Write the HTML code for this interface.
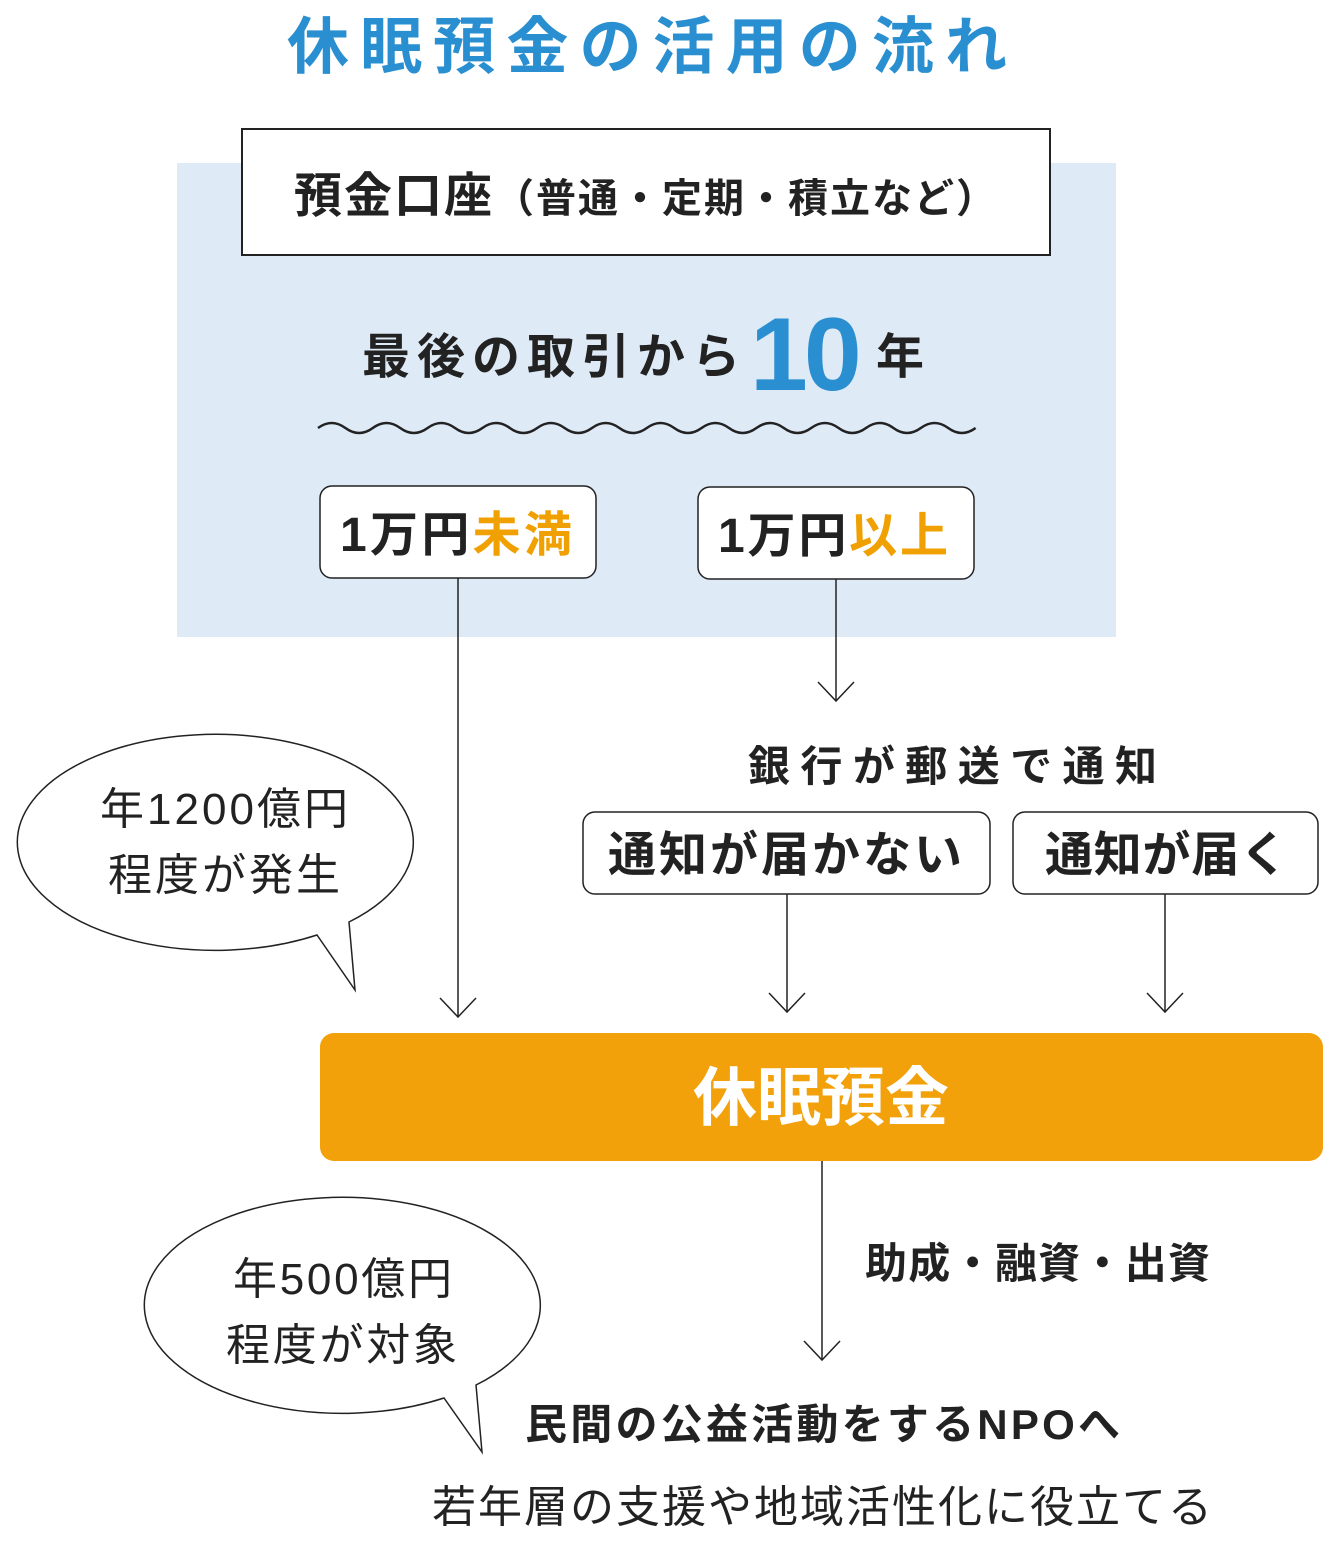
<!DOCTYPE html>
<html><head><meta charset="utf-8">
<style>
html,body{margin:0;padding:0;background:#fff;}
svg{display:block;}
text{font-family:"Liberation Sans","Noto Sans CJK JP",sans-serif;}
</style></head>
<body>
<svg width="1340" height="1552" viewBox="0 0 1340 1552" xmlns="http://www.w3.org/2000/svg">
<text x="287" y="68" font-size="62" font-weight="bold" fill="#2a8fd0" textLength="720" lengthAdjust="spacing">休眠預金の活用の流れ</text>
<rect x="177" y="163" width="939" height="474" fill="#dfeaf7"/>
<rect x="242" y="129" width="808" height="126" fill="#fff" stroke="#222" stroke-width="2"/>
<text x="294" y="212" font-size="48" font-weight="bold" fill="#222" textLength="702" lengthAdjust="spacing">預金口座<tspan font-size="40">（普通・定期・積立など）</tspan></text>
<text x="362" y="373" font-size="48" font-weight="bold" fill="#222" textLength="378" lengthAdjust="spacing">最後の取引から</text>
<text x="750" y="390" font-size="104" font-weight="bold" fill="#2a8fd0" letter-spacing="-4">10</text>
<text x="876" y="373" font-size="48" font-weight="bold" fill="#222">年</text>
<path d="M318 428 q13.7 -10 27.4 0 t27.4 0 t27.4 0 t27.4 0 t27.4 0 t27.4 0 t27.4 0 t27.4 0 t27.4 0 t27.4 0 t27.4 0 t27.4 0 t27.4 0 t27.4 0 t27.4 0 t27.4 0 t27.4 0 t27.4 0 t27.4 0 t27.4 0 t27.4 0 t27.4 0 t27.4 0 t27.4 0" fill="none" stroke="#222" stroke-width="2.5"/>
<rect x="320" y="486" width="276" height="92" rx="12" fill="#fff" stroke="#222" stroke-width="1.5"/>
<text x="340" y="551" font-size="48" font-weight="bold" fill="#222" textLength="232" lengthAdjust="spacing">1万円<tspan fill="#f0a000">未満</tspan></text>
<rect x="698" y="487" width="276" height="92" rx="12" fill="#fff" stroke="#222" stroke-width="1.5"/>
<text x="718" y="552" font-size="48" font-weight="bold" fill="#222" textLength="230" lengthAdjust="spacing">1万円<tspan fill="#f0a000">以上</tspan></text>
<g stroke="#222" stroke-width="1.5" fill="none">
<line x1="458" y1="578" x2="458" y2="1017"/><path d="M440 998 L458 1017 L476 998"/>
<line x1="836" y1="579" x2="836" y2="701"/><path d="M818 682 L836 701 L854 682"/>
<line x1="787" y1="894" x2="787" y2="1012"/><path d="M769 993 L787 1012 L805 993"/>
<line x1="1165" y1="894" x2="1165" y2="1012"/><path d="M1147 993 L1165 1012 L1183 993"/>
<line x1="822" y1="1161" x2="822" y2="1360"/><path d="M804 1341 L822 1360 L840 1341"/>
</g>
<text x="748" y="781" font-size="42" font-weight="bold" fill="#222" textLength="409" lengthAdjust="spacing">銀行が郵送で通知</text>
<rect x="583" y="812" width="407" height="82" rx="12" fill="#fff" stroke="#222" stroke-width="1.5"/>
<text x="608" y="871" font-size="48" font-weight="bold" fill="#222" textLength="354" lengthAdjust="spacing">通知が届かない</text>
<rect x="1013" y="812" width="305" height="82" rx="12" fill="#fff" stroke="#222" stroke-width="1.5"/>
<text x="1045" y="871" font-size="48" font-weight="bold" fill="#222" textLength="243" lengthAdjust="spacing">通知が届く</text>
<rect x="320" y="1033" width="1003" height="128" rx="14" fill="#f2a10a"/>
<text x="821" y="1120" text-anchor="middle" font-size="64" font-weight="bold" fill="#fff">休眠預金</text>
<text x="865" y="1278" font-size="42" font-weight="bold" fill="#222" textLength="345" lengthAdjust="spacing">助成・融資・出資</text>
<text x="525" y="1439" font-size="42" font-weight="bold" fill="#222" textLength="595" lengthAdjust="spacing">民間の公益活動をするNPOへ</text>
<text x="432" y="1522" font-size="44" fill="#222" textLength="780" lengthAdjust="spacing">若年層の支援や地域活性化に役立てる</text>
<path d="M317 935 A198 108 0 1 1 349 922 L355 990 Z" fill="#fff" stroke="#222" stroke-width="1.5"/>
<text x="100" y="824" font-size="44" fill="#222" textLength="248" lengthAdjust="spacing">年1200億円</text>
<text x="108" y="890" font-size="44" fill="#222" textLength="232" lengthAdjust="spacing">程度が発生</text>
<path d="M444 1398 A198 108 0 1 1 476 1385 L482 1452 Z" fill="#fff" stroke="#222" stroke-width="1.5"/>
<text x="233" y="1294" font-size="44" fill="#222" textLength="219" lengthAdjust="spacing">年500億円</text>
<text x="226" y="1360" font-size="44" fill="#222" textLength="231" lengthAdjust="spacing">程度が対象</text>
</svg>
</body></html>
